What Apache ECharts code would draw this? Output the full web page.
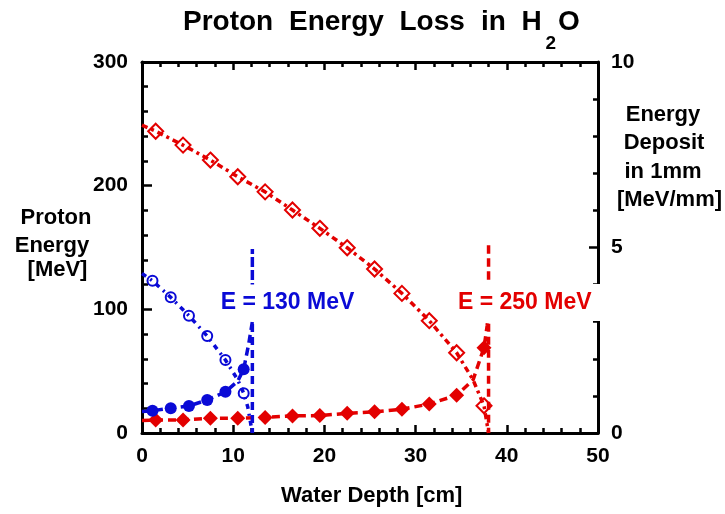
<!DOCTYPE html>
<html><head><meta charset="utf-8">
<script src="https://cdn.jsdelivr.net/npm/echarts@6/dist/echarts.min.js"></script>
<style>html,body{margin:0;padding:0;background:#fff}#c{width:725px;height:514px}</style>
</head><body><div id="c"></div>
<script>
// ---- tick values ----
const xTicks = [0, 10, 20, 30, 40, 50];
const leftTicks = [0, 100, 200, 300];
const rightTicks = [0, 5, 10];

// ---- E = 250 MeV (red) ----
const redMarkDepth = [1.5, 4.5, 7.5, 10.5, 13.5, 16.5, 19.5, 22.5, 25.5, 28.5, 31.5, 34.5, 37.5];
const redEnergyMark = [244, 232.8, 220.7, 207.2, 195, 180.3, 165.5, 149.8, 132.6, 112.9, 90.8, 64.9, 22];
const redDepositMark = [0.35, 0.35, 0.40, 0.40, 0.42, 0.46, 0.47, 0.53, 0.57, 0.64, 0.78, 1.02, 2.30];
const redEnergyLine = [[0, 249], [1.5, 244], [4.5, 232.8], [7.5, 220.7], [10.5, 207.2], [13.5, 195], [16.5, 180.3], [19.5, 165.5], [22.5, 149.8], [25.5, 132.6], [28.5, 112.9], [31.5, 90.8], [34.5, 64.9], [36.3, 43], [37.5, 22], [38.0, 0]];
const redDepositLine = [[0, 0.34], [1.5, 0.35], [4.5, 0.35], [7.5, 0.40], [10.5, 0.40], [13.5, 0.42], [16.5, 0.46], [19.5, 0.47], [22.5, 0.53], [25.5, 0.57], [28.5, 0.64], [31.5, 0.78], [34.5, 1.02], [36.3, 1.43], [37.5, 2.30], [37.85, 2.9], [38.0, 3.3], [38.0, 5.12], [38.0, 0]];

// ---- E = 130 MeV (blue) ----
const blueMarkDepth = [1.15, 3.15, 5.15, 7.15, 9.15, 11.15];
const blueEnergyMark = [123.1, 109.7, 94.8, 78.4, 59.0, 32.1];
const blueDepositMark = [0.60, 0.67, 0.73, 0.89, 1.11, 1.72];
const blueEnergyLine = [[0, 129], [1.15, 123.1], [3.15, 109.7], [5.15, 94.8], [7.15, 78.4], [9.15, 59.0], [10.5, 43], [11.15, 32.1], [11.6, 21], [12.1, 0]];
const blueDepositLine = [[0, 0.58], [1.15, 0.60], [3.15, 0.67], [5.15, 0.73], [7.15, 0.89], [9.15, 1.11], [10.5, 1.40], [11.15, 1.72], [11.7, 2.4], [12.1, 3.0], [12.1, 4.96], [12.1, 0]];

// ---- annotations (depth, energy) ----
const labelTexts = ['E = 130 MeV', 'E = 250 MeV'];
const labelAt = [[15.95, 105.1], [42.3, 105.5]];

const FONT = '"Liberation Sans", Arial, Helvetica, sans-serif';
const RED = '#e30000';
const BLUE = '#0a0ad6';
const pairs = (xs, ys) => xs.map((x, i) => [x, ys[i]]);

const axisLineStyle = { color: '#000', width: 3 };
const tickStyle = { color: '#000', width: 2.5 };
const labelStyle = { fontSize: 21, fontWeight: 'bold', color: '#000', fontFamily: FONT, showMinLabel: true, showMaxLabel: true };

function xAx(pos, showLabel) {
  return {
    type: 'value', position: pos, min: xTicks[0], max: xTicks[xTicks.length - 1], interval: xTicks[1] - xTicks[0],
    axisLine: { show: true, onZero: false, lineStyle: axisLineStyle },
    axisTick: { show: true, inside: true, length: 8, lineStyle: tickStyle },
    minorTick: { show: true, splitNumber: 5, length: 5, lineStyle: tickStyle },
    splitLine: { show: false }, minorSplitLine: { show: false },
    axisLabel: Object.assign({ show: showLabel, margin: 13 }, labelStyle)
  };
}

const chart = echarts.init(document.getElementById('c'), null, { renderer: 'canvas' });
const txt = (text, x, y, size, color, align) => ({
  type: 'text', x: x, y: y, silent: true,
  style: { text: text, font: 'bold ' + size + 'px ' + FONT, fill: color || '#000', align: align || 'center', verticalAlign: 'middle' }
});

chart.setOption({
  animation: false,
  backgroundColor: '#fff',
  grid: { left: 142, top: 62, width: 456, height: 371, outerBoundsMode: 'none' },
  xAxis: [xAx('bottom', true), xAx('top', false)],
  yAxis: [
    {
      type: 'value', position: 'left', min: leftTicks[0], max: leftTicks[leftTicks.length - 1], interval: leftTicks[1] - leftTicks[0],
      axisLine: { show: true, onZero: false, lineStyle: axisLineStyle },
      axisTick: { show: true, inside: true, length: 10, lineStyle: tickStyle },
      minorTick: { show: true, splitNumber: 5, length: 6, lineStyle: tickStyle },
      splitLine: { show: false },
      axisLabel: Object.assign({ margin: 14 }, labelStyle)
    },
    {
      type: 'value', position: 'right', min: rightTicks[0], max: rightTicks[rightTicks.length - 1], interval: rightTicks[1] - rightTicks[0],
      axisLine: { show: true, onZero: false, lineStyle: axisLineStyle },
      axisTick: { show: true, inside: true, length: 9, lineStyle: tickStyle },
      minorTick: { show: true, splitNumber: 5, length: 5, lineStyle: tickStyle },
      splitLine: { show: false },
      axisLabel: Object.assign({ margin: 13 }, labelStyle)
    }
  ],
  graphic: [
    txt('Proton', 183, 22.5, 28, '#000', 'left'),
    txt('Energy', 289, 22.5, 28, '#000', 'left'),
    txt('Loss', 399.5, 22.5, 28, '#000', 'left'),
    txt('in', 481, 22.5, 28, '#000', 'left'),
    txt('H', 521.5, 22.5, 28, '#000', 'left'),
    txt('2', 545.5, 43.5, 19, '#000', 'left'),
    txt('O', 558, 22.5, 28, '#000', 'left'),
    txt('Proton', 56, 218, 22),
    txt('Energy', 52, 246, 22),
    txt('[MeV]', 57.5, 270, 22),
    txt('Energy', 663, 115, 22),
    txt('Deposit', 664, 143, 22),
    txt('in 1mm', 663, 171.5, 22),
    txt('[MeV/mm]', 669.5, 199.5, 22),
    txt('Water Depth [cm]', 371.7, 496, 22)
  ],
  series: [
    { type: 'line', name: 'E250 energy curve', xAxisIndex: 0, yAxisIndex: 0, data: redEnergyLine, showSymbol: false, symbol: 'none', z: 3,
      lineStyle: { color: RED, width: 3.5, opacity: 1, type: [6, 4, 3, 4] } },
    { type: 'line', name: 'E250 deposit curve', xAxisIndex: 0, yAxisIndex: 1, data: redDepositLine, showSymbol: false, symbol: 'none', z: 3,
      lineStyle: { color: RED, width: 3.5, opacity: 1, type: [8, 5] } },
    { type: 'line', name: 'E130 energy curve', xAxisIndex: 0, yAxisIndex: 0, data: blueEnergyLine, showSymbol: false, symbol: 'none', z: 3,
      lineStyle: { color: BLUE, width: 3.5, opacity: 1, type: [5, 5, 2, 5] } },
    { type: 'line', name: 'E130 deposit curve', xAxisIndex: 0, yAxisIndex: 1, data: blueDepositLine, showSymbol: false, symbol: 'none', z: 3,
      lineStyle: { color: BLUE, width: 3.5, opacity: 1, type: [8, 5] } },
    { type: 'scatter', xAxisIndex: 0, yAxisIndex: 0, data: pairs(redMarkDepth, redEnergyMark), symbol: 'diamond', symbolSize: 15, z: 5,
      itemStyle: { color: 'rgba(255,255,255,0)', borderColor: RED, borderWidth: 2, opacity: 1 } },
    { type: 'scatter', xAxisIndex: 0, yAxisIndex: 1, data: pairs(redMarkDepth, redDepositMark), symbol: 'diamond', symbolSize: 15, z: 5,
      itemStyle: { color: RED, opacity: 1 } },
    { type: 'scatter', xAxisIndex: 0, yAxisIndex: 0, data: pairs(blueMarkDepth, blueEnergyMark), symbol: 'circle', symbolSize: 10, z: 5,
      itemStyle: { color: 'rgba(255,255,255,0)', borderColor: BLUE, borderWidth: 2, opacity: 1 } },
    { type: 'scatter', xAxisIndex: 0, yAxisIndex: 1, data: pairs(blueMarkDepth, blueDepositMark), symbol: 'circle', symbolSize: 12, z: 5,
      itemStyle: { color: BLUE, opacity: 1 } },
    { type: 'scatter', xAxisIndex: 0, yAxisIndex: 0, symbolSize: 0, silent: true, z: 20, clip: false,
      itemStyle: { opacity: 1 },
      data: labelAt.map((p, i) => ({ value: p, label: { formatter: labelTexts[i], color: i === 0 ? BLUE : RED, padding: i === 0 ? [7, 7, 7, 7] : [7, 13, 7, 7] } })),
      label: { show: true, position: 'inside', fontSize: 23, fontWeight: 'bold', fontFamily: FONT, backgroundColor: '#fff', opacity: 1, textBorderWidth: 0, textBorderColor: 'transparent', textShadowBlur: 0 } }
  ]
});
</script>
</body></html>
